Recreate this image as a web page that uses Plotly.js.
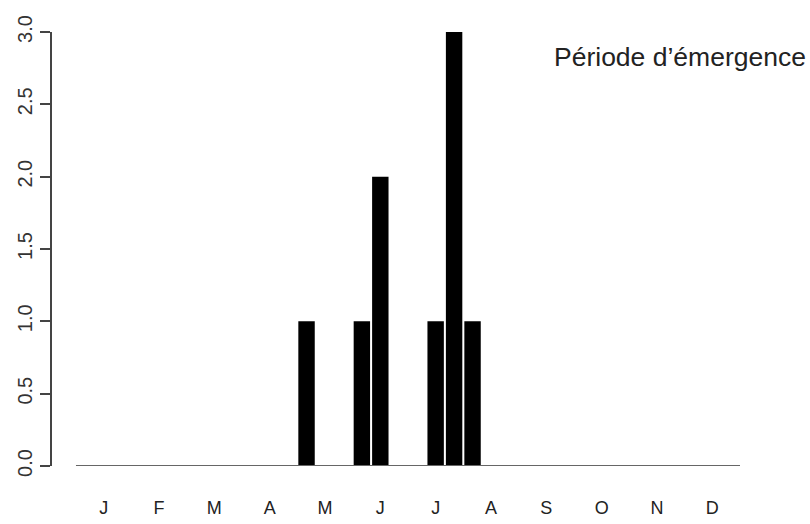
<!DOCTYPE html>
<html>
<head>
<meta charset="utf-8">
<script src="https://cdn.plot.ly/plotly-3.0.1.min.js"></script>
<style>html,body{margin:0;padding:0;background:#fff;}#chart{width:810px;height:524px;}</style>
</head>
<body>
<div id="chart"></div>
<script>
// Month labels (one label per month, 3 periods per month)
var months = ['J','F','M','A','M','J','J','A','S','O','N','D'];
// Counts per third of month (36 periods, Jan 1st third .. Dec 3rd third)
var counts = [0,0,0, 0,0,0, 0,0,0, 0,0,0,
              1,0,0, 1,2,0, 0,1,3, 1,0,0,
              0,0,0, 0,0,0, 0,0,0, 0,0,0];
var yTicks = [0, 0.5, 1, 1.5, 2, 2.5, 3];
var title = 'Période d’émergence';

var periods = counts.map(function(_, i){ return i; });
var monthPos = months.map(function(_, i){ return i * 3 + 1; });

var trace = {
  type: 'bar',
  x: periods,
  y: counts,
  marker: {color: '#000000', line: {width: 0}},
  hoverinfo: 'skip'
};

var layout = {
  width: 810, height: 524,
  margin: {l: 52, r: 70, t: 32, b: 58},
  paper_bgcolor: '#ffffff', plot_bgcolor: '#ffffff',
  showlegend: false,
  bargap: 0.11,
  font: {family: 'Liberation Sans, Arial, sans-serif', color: '#333'},
  xaxis: {
    range: [-1.80, 35.5],
    tickvals: monthPos,
    ticktext: months,
    ticks: '',
    showgrid: false, zeroline: false,
    showline: false,
    tickfont: {size: 18, color: '#222'},
    ticklabelstandoff: 29
  },
  yaxis: {
    range: [0, 3],
    tickvals: yTicks,
    tickformat: '.1f',
    tickangle: -90,
    ticks: 'outside', ticklen: 10, tickwidth: 2, tickcolor: '#444',
    showline: true, linecolor: '#444', linewidth: 2,
    showgrid: false, zeroline: false,
    tickfont: {size: 20, color: '#333'}
  },
  shapes: [{
    type: 'line', xref: 'x', yref: 'y',
    x0: -0.5, x1: 35.5, y0: 0, y1: 0,
    line: {color: '#666', width: 2},
    layer: 'above'
  }],
  annotations: [{
    text: title,
    xref: 'paper', yref: 'paper',
    x: (552 - 52) / 688, xanchor: 'left',
    y: (466 - 57) / 434, yanchor: 'middle',
    showarrow: false,
    font: {size: 26.5, color: '#222', family: 'Liberation Sans, Arial, sans-serif'}
  }]
};

Plotly.newPlot('chart', [trace], layout, {displayModeBar: false, staticPlot: true});
</script>
</body>
</html>
